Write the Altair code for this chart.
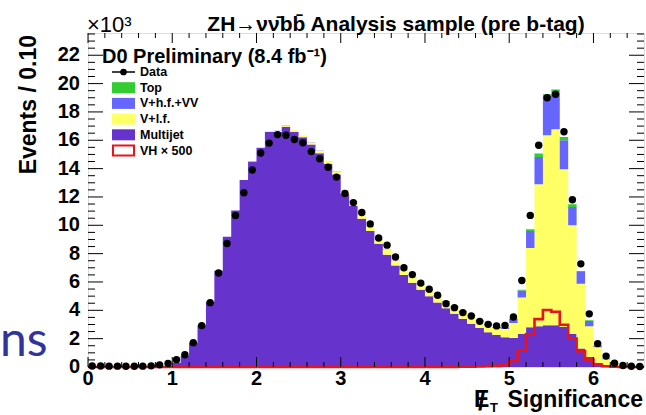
import altair as alt
import pandas as pd

# ---------------- data (values in units of 10^3 events / 0.10) ----------------
bin_lo = [round(0.1 * i, 1) for i in range(66)]
bin_width = 0.1

data_obs = [0.07, 0.07, 0.06, 0.06, 0.05, 0.05, 0.06, 0.08, 0.15, 0.25,
            0.52, 0.87, 1.72, 2.92, 4.54, 6.63, 8.72, 10.7, 12.3, 13.9,
            15.1, 15.8, 16.4, 16.35, 16.05, 15.82, 15.2, 14.7, 14.1, 13.4,
            12.24, 11.6, 10.9, 10.1, 9.1, 8.6, 7.76, 7.0, 6.52, 5.92,
            5.49, 5.06, 4.47, 4.19, 3.84, 3.6, 3.22, 3.01, 2.9, 2.94,
            3.53, 6.1, 10.7, 15.65, 19.0, 19.25, 16.6, 11.8, 7.28, 3.75,
            1.65, 0.77, 0.26, 0.1, 0.05, 0.03]

multijet = [0, 0, 0, 0, 0, 0, 0, 0, 0, 0.05,
            0.3, 0.8, 1.72, 2.95, 4.6, 6.8, 9.2, 11.05, 13.2, 14.5,
            15.45, 16.6, 16.58, 16.95, 16.58, 16.22, 15.7, 15.08, 14.35, 13.58,
            12.2, 11.38, 10.47, 9.6, 8.7, 7.93, 7.17, 6.5, 5.95, 5.45,
            5.0, 4.55, 4.15, 3.75, 3.4, 3.05, 2.75, 2.45, 2.25, 2.1,
            2.05, 2.35, 2.8, 2.87, 2.94, 2.94, 2.82, 2.35, 1.3, 0.7,
            0.3, 0.1, 0.03, 0.01, 0, 0]

v_lf = [0, 0, 0, 0, 0, 0, 0, 0, 0, 0,
        0, 0, 0, 0, 0, 0, 0, 0, 0, 0.02,
        0.03, 0.05, 0.08, 0.1, 0.12, 0.13, 0.15, 0.17, 0.2, 0.22,
        0.25, 0.27, 0.28, 0.3, 0.3, 0.32, 0.33, 0.35, 0.35, 0.38,
        0.42, 0.45, 0.47, 0.5, 0.52, 0.55, 0.48, 0.5, 0.5, 0.58,
        1.05, 2.55, 5.6, 10.03, 13.41, 13.84, 11.13, 7.65, 4.58, 2.17,
        1.1, 0.45, 0.18, 0.07, 0.03, 0.01]

v_hf_vv = [0, 0, 0, 0, 0, 0, 0, 0, 0, 0,
           0, 0, 0, 0, 0, 0, 0, 0, 0, 0,
           0.01, 0.01, 0.01, 0.01, 0.01, 0.01, 0.01, 0.01, 0.01, 0.01,
           0.02, 0.02, 0.02, 0.02, 0.02, 0.02, 0.02, 0.02, 0.02, 0.02,
           0.03, 0.03, 0.03, 0.03, 0.03, 0.04, 0.05, 0.06, 0.08, 0.12,
           0.3, 0.5, 1.2, 1.92, 2.82, 2.59, 2.05, 1.29, 0.82, 0.38,
           0.12, 0.05, 0.02, 0.01, 0, 0]

top_bkg = [0] * 50 + [0.02, 0.06, 0.12, 0.24, 0.08, 0.21, 0.23, 0.19, 0.08, 0.05,
                      0.02, 0, 0, 0, 0, 0]

vh_x500 = [0] * 44 + [0.02, 0.03, 0.04, 0.06, 0.08, 0.13,
                      0.42, 1.18, 2.3, 3.38, 4.02, 3.9, 2.98, 2.0, 1.12, 0.52,
                      0.17, 0.05, 0.02, 0, 0, 0]

comp_names = ["Multijet", "V+l.f.", "V+h.f.+VV", "Top"]
comp_colors = ["#6633cc", "#ffff66", "#6666ff", "#33cc33"]
comp_values = [multijet, v_lf, v_hf_vv, top_bkg]

legend_labels = ["Data", "Top", "V+h.f.+VV", "V+l.f.", "Multijet", "VH \u00d7 500"]

x_major = [0, 1, 2, 3, 4, 5, 6]
y_major = [0, 2, 4, 6, 8, 10, 12, 14, 16, 18, 20, 22]
x_lim = [0, 6.6]
y_lim = [0, 23.57]

# ---------------- layout ----------------
W, H = 556, 334
FONT = "Liberation Sans"
xs = alt.Scale(domain=x_lim, nice=False, zero=False)
ys = alt.Scale(domain=y_lim, nice=False, zero=False)

# stacked histogram as step areas (one per component)
rows = []
n = len(bin_lo)
for ci, (name, arr) in enumerate(zip(comp_names, comp_values)):
    for i in range(n + 1):
        j = min(i, n - 1)
        base = sum(comp_values[k][j] for k in range(ci))
        x = bin_lo[i] if i < n else x_lim[1]
        rows.append({"x": x, "y0": base, "y1": base + arr[j], "comp": name})
stack_df = pd.DataFrame(rows)

bars = alt.Chart(stack_df).mark_area(interpolate="step-after", opacity=1).encode(
    x=alt.X("x:Q", scale=xs, axis=None),
    y=alt.Y("y0:Q", scale=ys, axis=None),
    y2="y1:Q",
    color=alt.Color("comp:N", scale=alt.Scale(domain=comp_names, range=comp_colors), legend=None),
    detail="comp:N",
)

# VH x 500 step outline
step_df = pd.DataFrame({"x": bin_lo + [x_lim[1]], "y": vh_x500 + [vh_x500[-1]]})
vh_line = alt.Chart(step_df).mark_line(interpolate="step-after", color="#e8141c",
                                       strokeWidth=2.6).encode(
    x=alt.X("x:Q", scale=xs, axis=None),
    y=alt.Y("y:Q", scale=ys, axis=None),
)

# data points
pts_df = pd.DataFrame({"x": [round(b + bin_width / 2, 3) for b in bin_lo], "y": data_obs})
points = alt.Chart(pts_df).mark_circle(color="black", opacity=1, size=55).encode(
    x=alt.X("x:Q", scale=xs, axis=None),
    y=alt.Y("y:Q", scale=ys, axis=None),
)

# inward ROOT-style ticks
x_minor = [round(0.2 * k, 1) for k in range(1, 33) if k % 5 != 0]
y_minor = [0.5 * k for k in range(1, 48) if k % 4 != 0]


def xticks(vals, length, bottom=True):
    df = pd.DataFrame({"v": vals})
    y0 = H if bottom else 0
    y1 = H - length if bottom else length
    return alt.Chart(df).mark_rule(color="black", strokeWidth=1).encode(
        x=alt.X("v:Q", scale=xs, axis=None), y=alt.value(y0), y2=alt.value(y1))


def yticks(vals, length, left=True):
    df = pd.DataFrame({"v": vals})
    x0 = 0 if left else W
    x1 = length if left else W - length
    return alt.Chart(df).mark_rule(color="black", strokeWidth=1).encode(
        y=alt.Y("v:Q", scale=ys, axis=None), x=alt.value(x0), x2=alt.value(x1))


ticks = [
    xticks(x_major, 10, True), xticks(x_minor, 5, True),
    xticks(x_major, 10, False), xticks(x_minor, 5, False),
    yticks(y_major, 15, True), yticks(y_minor, 7, True),
    yticks(y_major, 15, False), yticks(y_minor, 7, False),
]

# tick labels
xlab = alt.Chart(pd.DataFrame({"v": x_major})).mark_text(
    font=FONT, fontSize=20, fontWeight="bold", baseline="alphabetic", align="center", color="black"
).encode(x=alt.X("v:Q", scale=xs, axis=None), y=alt.value(H + 18), text="v:Q")
ylab = alt.Chart(pd.DataFrame({"v": y_major})).mark_text(
    font=FONT, fontSize=20, fontWeight="bold", baseline="middle", align="right", color="black"
).encode(y=alt.Y("v:Q", scale=ys, axis=None), x=alt.value(-8), text="v:Q")


def text(s, x, y, size, weight="bold", align="left", baseline="alphabetic",
         angle=0, color="black", font=FONT):
    df = pd.DataFrame({"t": [s]})
    return alt.Chart(df).mark_text(align=align, baseline=baseline, fontSize=size,
                                   fontWeight=weight, angle=angle, color=color,
                                   font=font).encode(
        x=alt.value(x), y=alt.value(y), text="t:N")


texts = [
    text("\u00d710\u00b3", -1, -1, 22, weight="normal"),
    text("ZH\u2192\u03bd\u03bd\u0304bb\u0304 Analysis sample (pre b-tag)", 308, -2, 21, align="center"),
    text("D0 Preliminary (8.4 fb\u207b\u00b9)", 14, 30, 20),
    text("Events / 0.10", -52, 2, 23, align="right", angle=270),
    text("Significance", 555, 374, 23, align="right"),
    text("E", 386, 374, 23),
    text("/", 393.5, 377, 26, align="center"),
    text("T", 402, 379, 13),
    text("ns", -88, 323, 48, weight="normal", align="left", color="#33339c", font="Lato"),
]

# legend
leg = []
row_y = [39 + 15.7 * i for i in range(len(legend_labels))]
for i, lab in enumerate(legend_labels):
    leg.append(text(lab, 52, row_y[i], 12.5, baseline="middle"))
one = pd.DataFrame({"a": [0]})
leg.append(alt.Chart(one).mark_rule(color="black", strokeWidth=1.5).encode(
    x=alt.value(24), x2=alt.value(47), y=alt.value(row_y[0])))
leg.append(alt.Chart(one).mark_circle(color="black", opacity=1, size=45).encode(
    x=alt.value(35.5), y=alt.value(row_y[0])))
swatch_map = dict(zip(comp_names, comp_colors))
for i, lab in enumerate(legend_labels):
    if lab in swatch_map:
        cy = row_y[i]
        leg.append(alt.Chart(one).mark_rect(color=swatch_map[lab]).encode(
            x=alt.value(24), x2=alt.value(47), y=alt.value(cy - 5.5), y2=alt.value(cy + 5.5)))
cy = row_y[-1]
leg.append(alt.Chart(one).mark_rect(fill="white", stroke="#e8141c", strokeWidth=2).encode(
    x=alt.value(25), x2=alt.value(46), y=alt.value(cy - 5), y2=alt.value(cy + 5)))

chart = alt.layer(bars, vh_line, points, *ticks, xlab, ylab, *texts, *leg).properties(
    width=W, height=H,
    padding={"left": 88, "top": 33, "right": 2, "bottom": 48},
    autosize=alt.AutoSizeParams(type="none"),
).configure_view(stroke="black", strokeWidth=1).configure(background="white")

chart.save("out.html", embed_options={"renderer": "svg", "actions": False})
